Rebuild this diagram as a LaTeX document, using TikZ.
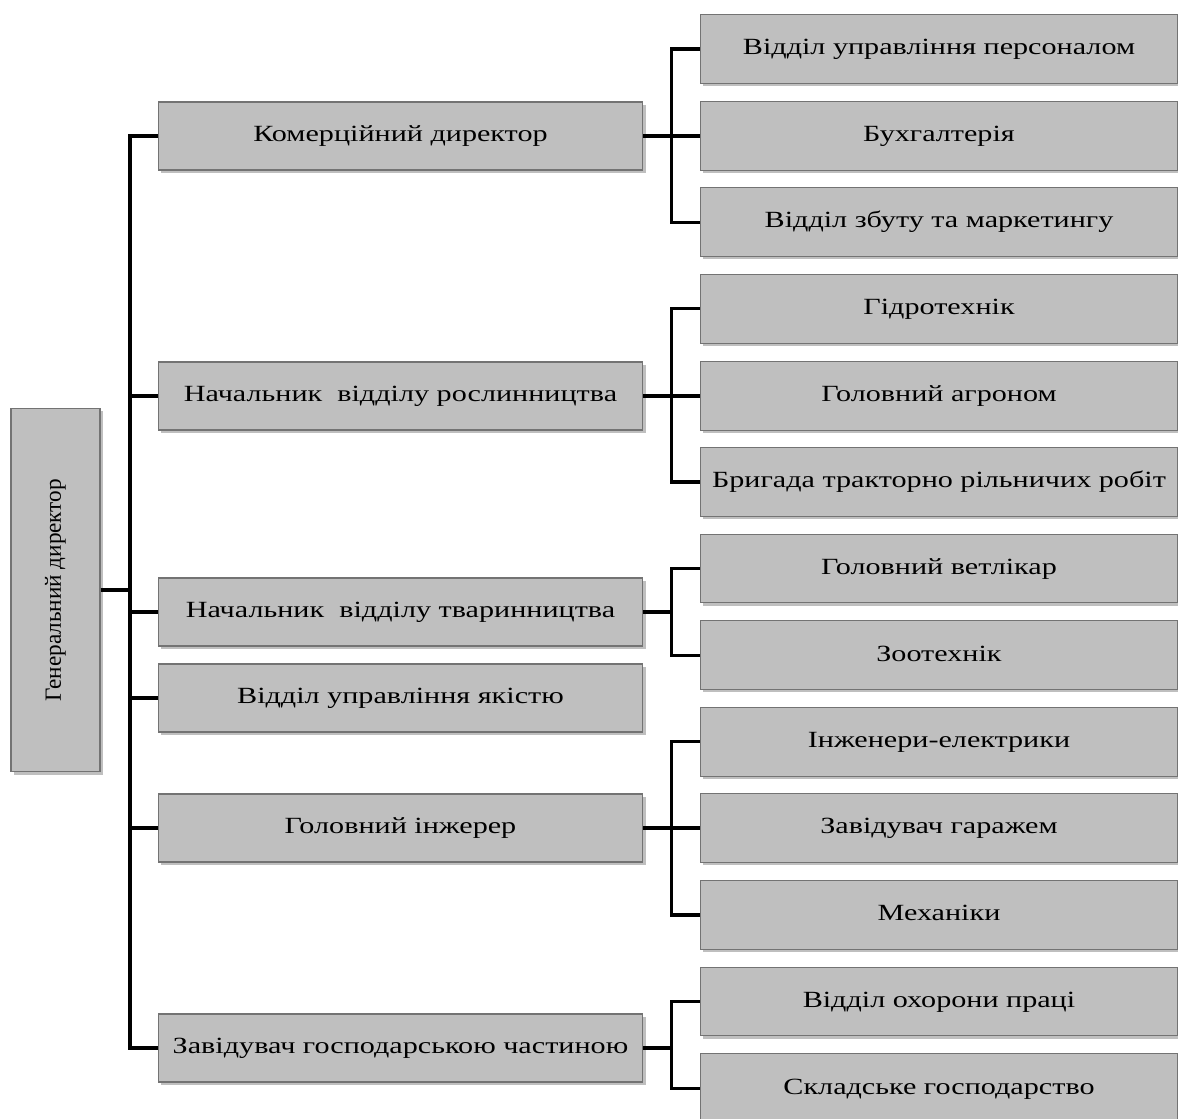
\documentclass[tikz,border=0pt]{standalone}
\usepackage{fontspec}
\setmainfont{Liberation Serif}[FakeStretch=1.3]
\newfontfamily\gdfont{Liberation Serif}
\usetikzlibrary{shadows}
\tikzset{
  unit/.style={draw=black!55, line width=0.6pt, fill=black!25,
    drop shadow={shadow xshift=1.6pt, shadow yshift=-1.6pt, fill=black!50},
    font=\fontsize{13.2}{15}\selectfont, inner sep=0pt,
    text height=0.66em, text depth=0pt},
  head/.style={unit, minimum width=9.7cm, minimum height=1.36cm},
  dept/.style={unit, minimum width=9.56cm, minimum height=1.37cm},
  link/.style={black, line width=1.9pt}
}
\begin{document}
\begin{tikzpicture}[x=0.02cm, y=-0.02cm]
    \useasboundingbox (0,0) rectangle (1178,1119);
    % general director
    \node[unit, minimum width=1.78cm, minimum height=7.28cm] (gen) at (55.5,590) {};
    \node[rotate=90, font=\gdfont\fontsize{13.2}{15}\selectfont] at (gen.center) {Генеральний директор};
    % heads
    \node[head] (kom) at (400.5,136) {Комерційний директор};
    \node[head] (rosl) at (400.5,396) {Начальник\ \ відділу рослинництва};
    \node[head] (tvar) at (400.5,612) {Начальник\ \ відділу тваринництва};
    \node[head] (yakist) at (400.5,698) {Відділ управління якістю};
    \node[head] (inzh) at (400.5,828) {Головний інжерер};
    \node[head] (gosp) at (400.5,1048) {Завідувач господарською частиною};
    % departments
    \node[dept] (personal) at (939,49) {Відділ управління персоналом};
    \node[dept] (buh) at (939,136) {Бухгалтерія};
    \node[dept] (zbut) at (939,222.2) {Відділ збуту та маркетингу};
    \node[dept] (gidro) at (939,308.8) {Гідротехнік};
    \node[dept] (agro) at (939,396) {Головний агроном};
    \node[dept] (brygada) at (939,482) {Бригада тракторно рільничих робіт};
    \node[dept] (vet) at (939,568.6) {Головний ветлікар};
    \node[dept] (zoo) at (939,655.2) {Зоотехнік};
    \node[dept] (elektr) at (939,741.8) {Інженери-електрики};
    \node[dept] (garazh) at (939,828) {Завідувач гаражем};
    \node[dept] (mekh) at (939,915) {Механіки};
    \node[dept] (okhor) at (939,1001.6) {Відділ охорони праці};
    \node[dept] (sklad) at (939,1088.2) {Складське господарство};
    % trunk
    \draw[link, line width=2.3pt] (kom.west) -- ++(-28,0) |- (gosp.west);
    \draw[link] (rosl.west) -- ++(-28,0);
    \draw[link] (tvar.west) -- ++(-28,0);
    \draw[link] (yakist.west) -- ++(-28,0);
    \draw[link] (inzh.west) -- ++(-28,0);
    \draw[link] (gen.east) -- ++(30,0);
    % branches
    \draw[link] (personal.west) -- ++(-28,0) |- (zbut.west);
    \draw[link] (kom.east) -- (buh.west);
    \draw[link] (gidro.west) -- ++(-28,0) |- (brygada.west);
    \draw[link] (rosl.east) -- (agro.west);
    \draw[link] (vet.west) -- ++(-28,0) |- (zoo.west);
    \draw[link] (tvar.east) -- ++(29,0);
    \draw[link] (elektr.west) -- ++(-28,0) |- (mekh.west);
    \draw[link] (inzh.east) -- (garazh.west);
    \draw[link] (okhor.west) -- ++(-28,0) |- (sklad.west);
    \draw[link] (gosp.east) -- ++(29,0);
\end{tikzpicture}
\end{document}
